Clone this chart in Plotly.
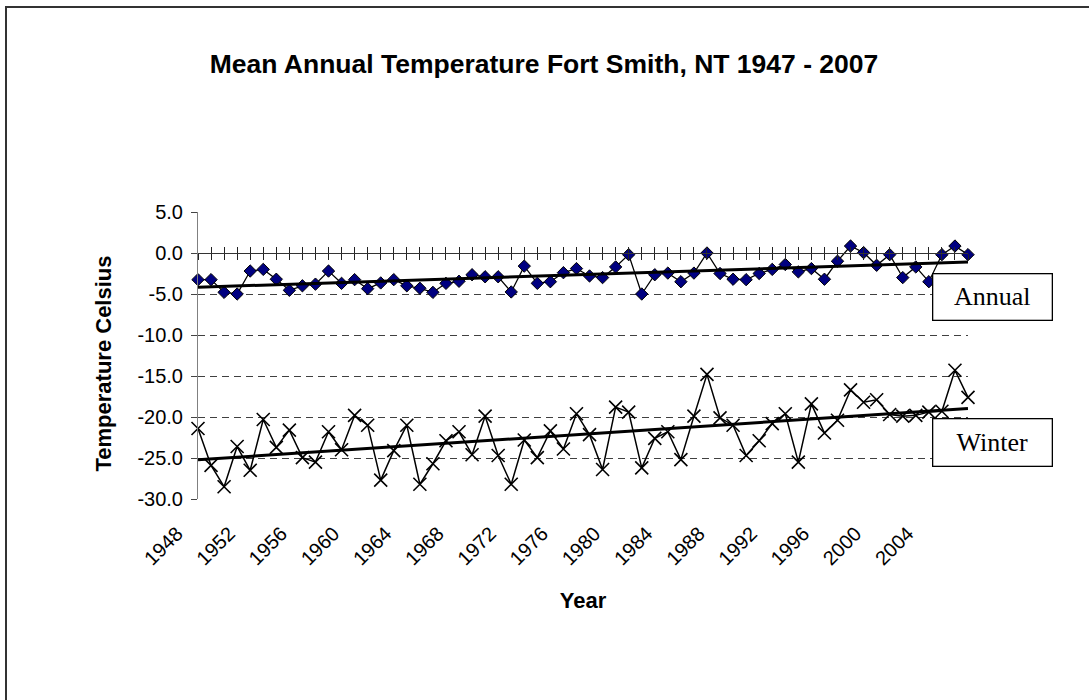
import numpy as np
import plotly.graph_objects as go

# ---------------- data ----------------
years = list(range(1948, 2008))
annual = [-3.25, -3.25, -4.8, -5.0, -2.2, -2.0, -3.2, -4.55, -4.0, -3.8,
          -2.2, -3.7, -3.25, -4.35, -3.65, -3.25, -4.0, -4.3, -4.8, -3.7,
          -3.45, -2.65, -2.9, -2.9, -4.75, -1.6, -3.7, -3.5, -2.4, -1.9,
          -2.8, -3.0, -1.7, -0.2, -5.0, -2.65, -2.45, -3.5, -2.45, 0.0,
          -2.5, -3.2, -3.25, -2.5, -2.0, -1.4, -2.3, -1.9, -3.2, -1.0,
          0.85, 0.05, -1.5, -0.2, -3.0, -1.7, -3.5, -0.2, 0.85, -0.2]
winter = [-21.4, -25.9, -28.5, -23.6, -26.5, -20.3, -23.7, -21.6, -24.95, -25.5,
          -21.8, -24.0, -19.8, -21.0, -27.7, -24.1, -21.0, -28.2, -25.7, -22.9,
          -21.8, -24.6, -19.9, -24.7, -28.2, -22.8, -24.95, -21.7, -23.9, -19.6,
          -22.15, -26.4, -18.8, -19.4, -26.2, -22.6, -21.8, -25.2, -19.9, -14.8,
          -20.1, -21.0, -24.7, -22.9, -20.8, -19.6, -25.5, -18.4, -21.95, -20.4,
          -16.7, -18.2, -17.9, -19.7, -19.9, -19.8, -19.4, -19.3, -14.3, -17.6]
x_tick_years = list(range(1948, 2005, 4))
x_tick_text = [str(y) for y in x_tick_years]
y_ticks = [5, 0, -5, -10, -15, -20, -25, -30]
y_tick_text = [f"{v:.1f}" for v in y_ticks]
grid_values = [-5, -10, -15, -20, -25]
title_text = "Mean Annual Temperature Fort Smith, NT 1947 - 2007"
series_labels = ["Annual", "Winter"]

Y_MIN, Y_MAX = -30, 5
X_MIN, X_MAX = years[0], years[-1]

W, H = 1089, 700
ML, MR, MT, MB = 198, 121, 212, 201
PW, PH = W - ML - MR, H - MT - MB


def px_x(px):
    return (px - ML) / PW


def px_y(py):
    return (H - MB - py) / PH


def trend(x, y):
    m, b = np.polyfit(x, y, 1)
    return [m * xi + b for xi in x]


SANS = "Liberation Sans, Arial, sans-serif"
SERIF = "Liberation Serif, Times New Roman, serif"

fig = go.Figure()
fig.add_trace(go.Scatter(
    x=years, y=annual, mode="lines+markers", name=series_labels[0],
    line=dict(color="black", width=1.3),
    marker=dict(symbol="diamond", size=9.5, color="#000080",
                line=dict(color="black", width=1)),
    cliponaxis=False))
fig.add_trace(go.Scatter(
    x=years, y=winter, mode="lines+markers", name=series_labels[1],
    line=dict(color="black", width=1.5),
    marker=dict(symbol="x-thin", size=13, color="black",
                line=dict(color="black", width=1.6)),
    cliponaxis=False))
# trend lines live on the overlay axes (which draw the zero axis and the grid)
fig.add_trace(go.Scatter(
    x=years, y=trend(years, annual), mode="lines", xaxis="x2", yaxis="y",
    line=dict(color="black", width=3), cliponaxis=False))
fig.add_trace(go.Scatter(
    x=years, y=trend(years, winter), mode="lines", xaxis="x3", yaxis="y2",
    line=dict(color="black", width=3), cliponaxis=False))

zero_pos = (0 - Y_MIN) / (Y_MAX - Y_MIN)

fig.update_layout(
    width=W, height=H,
    margin=dict(l=ML, r=MR, t=MT, b=MB),
    paper_bgcolor="white", plot_bgcolor="white",
    showlegend=False,
    font=dict(family=SANS, color="black"),
    title=dict(text=f"<b>{title_text}</b>", x=544 / W, xref="container",
               xanchor="center", y=1 - 64 / H, yref="container",
               yanchor="middle", font=dict(size=26.5, family=SANS)),
    xaxis=dict(range=[X_MIN, X_MAX], tickmode="array", tickvals=x_tick_years,
               ticktext=x_tick_text, tickangle=-45, ticks="", showline=False,
               showgrid=False, zeroline=False,
               ticklabelshift=-21, ticklabelstandoff=18,
               tickfont=dict(size=20, family=SANS),
               title=dict(text="<b>Year</b>", font=dict(size=22, family=SANS),
                          standoff=24)),
    xaxis2=dict(overlaying="x", anchor="free", position=zero_pos,
                range=[X_MIN, X_MAX], tickmode="linear", tick0=X_MIN, dtick=1,
                ticks="outside", ticklen=6, tickcolor="#222", tickwidth=1,
                showline=True, linecolor="#333", linewidth=1,
                showticklabels=False, showgrid=False, zeroline=False),
    xaxis3=dict(overlaying="x", anchor="free", position=zero_pos,
                range=[X_MIN, X_MAX], tickmode="linear", tick0=X_MIN, dtick=1,
                ticks="inside", ticklen=6, tickcolor="#222", tickwidth=1,
                showline=False, showticklabels=False, showgrid=False,
                zeroline=False),
    yaxis=dict(range=[Y_MIN, Y_MAX], tickmode="array", tickvals=y_ticks,
               ticktext=y_tick_text, ticks="outside", ticklen=6,
               tickcolor="#444", showline=True, linecolor="#808080",
               linewidth=1, showgrid=False, zeroline=False,
               tickfont=dict(size=20, family=SANS), ticklabelstandoff=4),
    yaxis2=dict(overlaying="y", range=[Y_MIN, Y_MAX], tickmode="array",
                tickvals=grid_values, showgrid=True, gridcolor="#404040",
                griddash="7px,5px", gridwidth=1, showticklabels=False,
                ticks="", showline=False, zeroline=False),
    annotations=[
        dict(text="<b>Temperature Celsius</b>", textangle=-90,
             x=px_x(103), y=px_y(363.5), xref="paper", yref="paper",
             xanchor="center", yanchor="middle", showarrow=False,
             font=dict(size=22, family=SANS)),
        dict(text=series_labels[0], x=px_x(992), y=px_y(297),
             xref="paper", yref="paper", xanchor="center", yanchor="middle",
             showarrow=False, font=dict(size=26, family=SERIF),
             bordercolor="black", borderwidth=1.3, borderpad=0,
             bgcolor="white", width=118, height=45),
        dict(text=series_labels[1], x=px_x(992), y=px_y(442),
             xref="paper", yref="paper", xanchor="center", yanchor="middle",
             showarrow=False, font=dict(size=26, family=SERIF),
             bordercolor="black", borderwidth=1.3, borderpad=0,
             bgcolor="white", width=118, height=46),
    ],
    shapes=[
        dict(type="rect", xref="paper", yref="paper",
             x0=px_x(6), x1=px_x(1150), y0=px_y(760), y1=px_y(7),
             line=dict(color="#333", width=2), fillcolor="rgba(0,0,0,0)",
             layer="below"),
    ],
)

fig.write_html("out.html",
               config={"displayModeBar": False},
               post_script="document.body.style.margin='0px';")
